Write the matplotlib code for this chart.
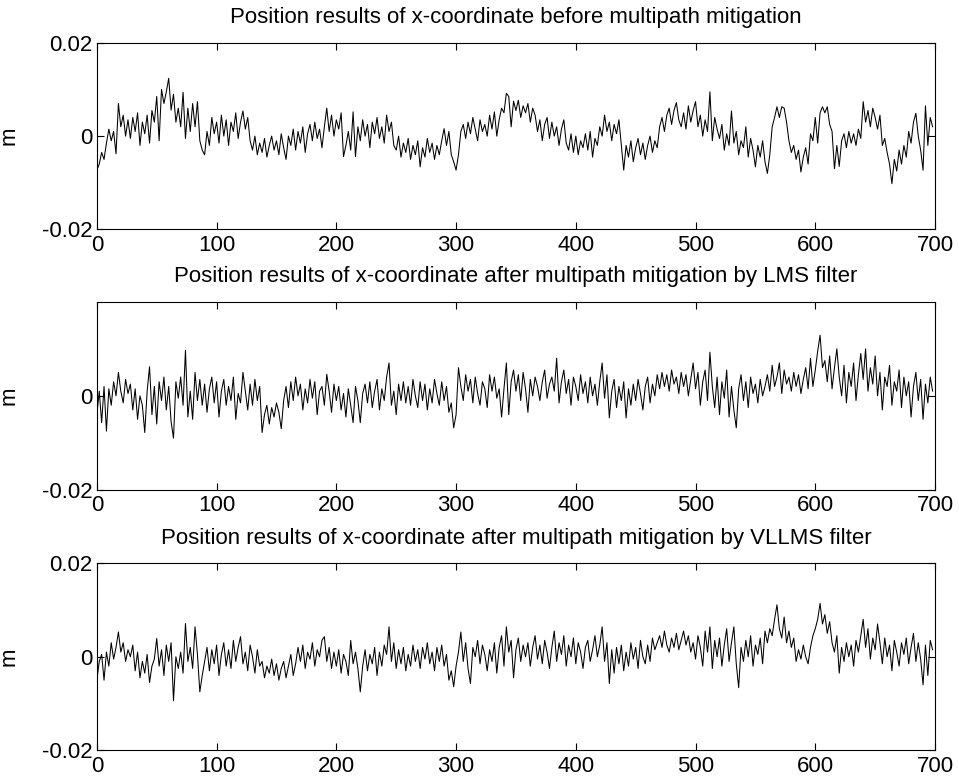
import matplotlib
matplotlib.use("Agg")
import matplotlib.pyplot as plt
import numpy as np

plt.rcParams['font.family'] = ['Liberation Sans', 'DejaVu Sans']

step = 2

# values, in units of 0.1 mm
before = [
    -73, -60, -35, -50, -15,   15, -10, 10, -38, 70,   20, 45, 0, 35, -5,
    40, 10, 50, -20, 30,   5, 45, -15, 55, 30,   85, -10, 100, 70, 95,
    124, 56, 90, 30, 60,   20, 94, -5, 60, 10,   70, 20, 74, -10, -30,
    -40, 10, -20, 40, 5,   30, -15, 45, 0, 35,   -20, 30, 10, 50, -5,
    30, 54, 15, 40, -10,   -30, 0, -40, -15, -35,   -5, -45, -20, 0, -30,
    -10, -40, 5, -25, -50,   0, -20, 15, -30, 10,   -15, 20, -35, 5, 25,
    -10, 30, -5, 15, -25,   20, 60, 10, 45, 0,   35, 15, 50, -44, -20,
    10, -30, 52, -44, 20,   -10, 35, 0, 25, -25,   30, 5, 40, -5, 20,
    -15, 45, 10, 30, -20,   -30, 0, -45, -15, -35,   -5, -50, -20, -40, -10,
    -66, -25, -45, -5, -35,   -15, -50, -20, -40, -10,   16, -20, 10, -40, -55,
    -73, -40, 10, 25, -5,   30, 5, 40, 15, -10,   35, 10, 25, 0, 45,
    15, 52, 0, 35, 60,   50, 92, 85, 20, 75,   55, 77, 40, 65, 50,
    70, 30, 60, 45, 10,   35, -10, 25, 40, -5,   30, 0, 20, -20, 15,
    35, -15, -30, 5, -35,   0, -40, -10, -25, 5,   -30, 10, -45, -5, -20,
    20, 0, 45, 10, 30,   -10, 25, 5, 35, -20,   -73, -20, -45, -10, -55,
    -25, -5, -40, -15, -50,   -20, 0, -35, -10, -25,   20, 40, 10, 45, 60,
    25, 55, 72, 35, 20,   50, 15, 65, 30, 55,   74, 20, 45, 0, 35,
    10, 95, -10, 40, 15,   -5, 25, -30, 5, -20,   54, -15, 10, -40, -10,
    -25, 20, -45, -5, -30,   -66, -20, -45, -10, -55,   -80, -40, 20, 40, 63,
    40, 63, 60, 30, -10,   -35, -20, -50, -30, -77,   -45, -25, -60, 5, -10,
    40, -15, 50, 63, 50,   63, 25, 10, -70, -20,   -65, -10, 5, -25, 10,
    -15, 5, -20, 15, -5,   74, 30, 55, 20, 60,   40, 15, 45, -20, -5,
    -35, -60, -102, -50, -75,   -30, -60, -20, -45, 10,   -15, 30, 49, 0, -30,
    -73, 65, -20, 40, 20,
]

lms = [
    -40, 10, -57, 20, -75,   15, -20, 30, 0, 50,   10, -15, 35, 5, 25,
    -30, 15, -50, 0, -20,   -78, 10, 62, -40, 20,   -60, 30, -10, 40, -30,
    20, -55, -90, 30, -5,   40, -20, 97, -45, 10,   -50, 50, -10, 35, -20,
    25, -35, 15, 40, -15,   30, -45, 10, 35, -20,   20, -10, 40, -50, 5,
    -15, 50, 10, -30, 25,   -20, 35, -10, 20, -78,   -40, -20, -60, -25, -45,
    -15, -35, -70, -10, 20,   -25, 30, -10, 40, 0,   25, -30, 15, -15, 35,
    -5, 30, -40, 10, 20,   -20, 46, 10, -35, 25,   -10, 20, -30, 5, -45,
    15, -20, -57, 20, -10,   -57, 5, 25, -15, 30,   -25, 10, 35, -30, 15,
    -10, 40, 70, -20, 10,   -40, 25, -10, 30, -15,   20, -20, 35, 0, -25,
    30, -10, 25, -30, 15,   -15, 35, 5, -20, 30,   -10, 20, -35, -15, -68,
    -40, 60, 20, -10, 45,   10, 35, -15, 40, 5,   -20, 30, 15, -25, 45,
    10, 40, -5, 15, -45,   15, 70, -40, 30, 55,   10, 45, -10, 50, 15,
    -35, 35, 0, 40, 20,   -10, 30, 55, -5, 25,   40, 10, 80, -15, 30,
    55, 5, 35, -20, 40,   20, -10, 45, 5, 30,   -15, 40, 0, 25, -20,
    30, 70, -5, 45, -47,   10, 35, -25, 20, -10,   30, -47, 15, -20, 25,
    -10, 35, 5, -30, 20,   40, -15, 25, 0, 45,   15, 50, 20, 45, 10,
    55, 25, 40, 5, 50,   20, 45, 0, 35, 70,   15, 50, -20, 30, 55,
    -10, 93, 20, -25, 40,   -40, 30, -5, 55, -45,   20, -30, -68, 15, 45,
    -10, 30, -25, 40, 5,   25, -15, 35, 0, 20,   45, 10, 65, 20, 40,
    70, 5, 55, 25, 40,   10, 50, 20, 45, 5,   35, 60, 15, 80, 20,
    55, 95, 129, 60, 75,   30, 85, 15, 60, 100,   40, 0, 65, -15, 50,
    20, 70, -10, 45, 90,   35, 100, 10, 60, 25,   85, 0, 50, -30, 40,
    20, 65, -20, 30, 10,   55, -25, 40, 0, 30,   -45, 20, 50, -10, 35,
    -50, 25, -15, 40, 10,
]

vllms = [
    -50, -10, 5, -50, 10,   -20, 30, -5, 20, 53,   10, 30, -10, 15, 0,
    25, -30, 10, -45, -10,   -35, 5, -55, -20, -5,   39, -20, 15, -40, 25,
    -10, 30, -94, 0, -25,   10, -35, 71, -10, 20,   -25, 64, 5, -75, -40,
    -10, 20, -30, 15, -15,   25, -40, 5, 30, -20,   15, -25, 35, -10, 20,
    43, -15, 10, -30, 25,   0, -35, 15, -20, -10,   -45, -20, -35, -5, -40,
    -15, -50, -25, -10, -45,   -20, 5, -40, -15, 20,   -10, 25, -25, 10, -5,
    30, -20, 15, 0, 35,   43, -10, 20, -25, 10,   -20, 15, -35, 5, -10,
    -40, 35, -15, 10, -25,   -75, -20, 15, -30, 5,   -15, 20, -40, 10, -20,
    25, 5, 64, -10, 30,   -25, 15, -15, 20, -30,   5, -20, 25, -10, 15,
    -25, 20, -5, 30, -15,   10, -30, 20, -10, 25,   -20, 5, -50, -30, -64,
    -20, 10, 53, -10, 30,   -25, -57, 20, 0, 35,   -15, 25, 5, -30, 15,
    -10, 30, -35, 20, 45,   -20, 64, 10, 35, -45,   15, 40, -10, 25, 0,
    30, -20, 20, 45, -5,   25, -15, 35, 10, -25,   20, 55, -10, 30, 5,
    45, -20, 25, 0, 40,   -15, 30, 10, -25, 20,   35, -10, 15, 45, 0,
    25, 64, -10, 30, -57,   15, -35, 20, -15, 25,   -30, 10, -20, 30, -5,
    20, -25, 35, 0, -15,   25, -10, 40, 15, 30,   45, 20, 55, 25, 10,
    40, 20, 50, 15, 35,   55, 25, 45, 10, 30,   -5, 45, 20, -20, 55,
    10, 64, -25, 35, 0,   40, -20, 25, 60, -10,   30, 64, -15, -66, 20,
    -10, 35, 0, 45, -20,   25, 5, 40, -15, 55,   30, 60, 45, 80, 111,
    60, 40, 85, 30, 55,   20, 40, -10, 15, -5,   25, 0, -15, 20, 45,
    60, 80, 114, 70, 90,   50, 75, 30, 10, 45,   -35, 20, -10, 30, 0,
    25, -20, 35, 10, 45,   80, 20, 60, -5, 40,   15, 70, 30, -15, 40,
    0, 25, -30, 35, 10,   -20, 30, 5, 40, -15,   20, 50, -10, 30, -5,
    -60, 25, -40, 35, 15,
]

titles = [
    'Position results of x-coordinate before multipath mitigation',
    'Position results of x-coordinate after multipath mitigation by LMS filter',
    'Position results of x-coordinate after multipath mitigation by VLLMS filter',
]
xticks = [0, 100, 200, 300, 400, 500, 600, 700]

fig = plt.figure(figsize=(9.59, 7.80), dpi=100)
boxes = [
    [0.101, 0.706, 0.874, 0.239],
    [0.101, 0.372, 0.874, 0.241],
    [0.101, 0.038, 0.874, 0.240],
]
series = [before, lms, vllms]
yticks = [[-0.02, 0, 0.02], [-0.02, 0], [-0.02, 0, 0.02]]
ylabels = [['-0.02', '0', '0.02'], ['-0.02', '0'], ['-0.02', '0', '0.02']]

for i in range(3):
    ax = fig.add_axes(boxes[i])
    vals = np.array(series[i]) * 1e-4
    t = np.arange(len(vals)) * step
    ax.plot(t, vals, c='k', lw=0.75)
    ax.set_xlim(0, 700)
    ax.set_ylim(-0.02, 0.02)
    ax.set_xticks(xticks)
    ax.set_yticks(yticks[i])
    ax.set_yticklabels(ylabels[i])
    ax.tick_params(direction='in', top=True, right=True, length=5,
                   labelsize=16, width=0.8)
    ax.tick_params(axis='x', pad=4)
    ax.tick_params(axis='y', pad=3)
    for s in ax.spines.values():
        s.set_linewidth(0.8)
    ax.set_title(titles[i], fontsize=16, pad=14)
    ax.set_ylabel('m', fontsize=16, labelpad=16)

fig.savefig('out.png', dpi=100)
